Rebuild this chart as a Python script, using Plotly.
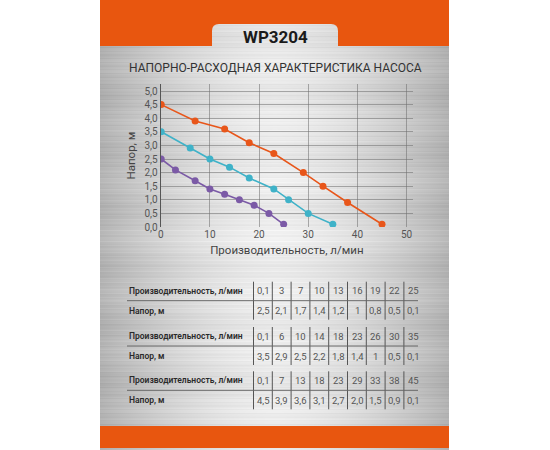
import base64, zlib, struct
import numpy as np
import plotly.graph_objects as go

# ---------------- data ----------------
flow_purple = [0.1, 3, 7, 10, 13, 16, 19, 22, 25]
head_purple = [2.5, 2.1, 1.7, 1.4, 1.2, 1, 0.8, 0.5, 0.1]
flow_cyan = [0.1, 6, 10, 14, 18, 23, 26, 30, 35]
head_cyan = [3.5, 2.9, 2.5, 2.2, 1.8, 1.4, 1, 0.5, 0.1]
flow_orange = [0.1, 7, 13, 18, 23, 29, 33, 38, 45]
head_orange = [4.5, 3.9, 3.6, 3.1, 2.7, 2.0, 1.5, 0.9, 0.1]

title_text = "WP3204"
subtitle_text = "НАПОРНО-РАСХОДНАЯ ХАРАКТЕРИСТИКА НАСОСА"
x_title = "Производительность, л/мин"
y_title = "Напор, м"
row_labels = ["Производительность, л/мин", "Напор, м"]

W, H = 550, 450
ORANGE = "#E8560F"
FONT = "Roboto"

def px(x):
    return x / W

def py(y):
    return 1 - y / H

# ---------------- brushed-metal background image ----------------
iw, ih = 349, 450
xs = np.arange(iw)
ys = np.arange(ih)
dx = np.abs(xs - iw / 2) / (iw / 2)
prof = 238 - 58 * dx ** 1.6
streak = (3.0 * np.sin(ys * 1.7) + 2.5 * np.sin(ys * 0.63 + 1.0) + 2.0 * np.sin(ys * 2.9 + 0.4)
          + 4.0 * np.sin(ys * 0.11 + 0.5))
val = prof[None, :] + streak[:, None] - 6 * (np.abs(ys - 240) / 240.0)[:, None]
val = np.clip(val, 0, 255).astype(np.uint8)
arr = np.stack([val, val, val], axis=2)
raw = np.concatenate([np.zeros((ih, 1), np.uint8), arr.reshape(ih, iw * 3)], axis=1).tobytes()

def chunk(t, d):
    c = struct.pack(">I", len(d)) + t + d
    return c + struct.pack(">I", zlib.crc32(t + d) & 0xffffffff)

png = b"\x89PNG\r\n\x1a\n" + chunk(b"IHDR", struct.pack(">IIBBBBB", iw, ih, 8, 2, 0, 0, 0)) \
    + chunk(b"IDAT", zlib.compress(raw, 9)) + chunk(b"IEND", b"")
bg_src = "data:image/png;base64," + base64.b64encode(png).decode()

# ---------------- figure ----------------
fig = go.Figure()
series = [
    (flow_orange, head_orange, "#E8561A"),
    (flow_cyan, head_cyan, "#3FB2C8"),
    (flow_purple, head_purple, "#7B5AA6"),
]
for fx, fy, col in series:
    fig.add_trace(go.Scatter(x=fx, y=fy, mode="lines+markers",
                             line=dict(color=col, width=1.6),
                             marker=dict(color=col, size=7),
                             showlegend=False, hoverinfo="skip"))

fig.update_layout(
    width=W, height=H,
    margin=dict(l=0, r=0, t=0, b=0, autoexpand=False),
    paper_bgcolor="white",
    plot_bgcolor="rgba(0,0,0,0)",
    separators=", ",
    font=dict(family=FONT, color="#444"),
    xaxis=dict(domain=[px(160.7), px(413)], range=[0, 51.3], tickvals=[0, 10, 20, 30, 40, 50],
               showgrid=True, gridcolor="rgba(110,110,110,0.55)", gridwidth=1,
               zeroline=False, showline=False, ticks="",
               tickfont=dict(size=10, color="#555"),
               title=dict(text=x_title, font=dict(size=11.5, color="#444"), standoff=6)),
    yaxis=dict(domain=[py(227), py(84.2)], range=[0, 5.25],
               tickvals=[0, 0.5, 1, 1.5, 2, 2.5, 3, 3.5, 4, 4.5, 5], tickformat=".1f",
               showgrid=True, gridcolor="rgba(110,110,110,0.55)", gridwidth=1,
               zeroline=False, showline=True, linecolor="#555", linewidth=1, ticks="",
               tickfont=dict(size=10, color="#555"),
               title=dict(text=y_title, font=dict(size=11.5, color="#444"), standoff=6)),
)

fig.add_layout_image(dict(source=bg_src, xref="paper", yref="paper", x=px(100), y=1,
                          sizex=px(449) - px(100), sizey=1, sizing="stretch",
                          xanchor="left", yanchor="top", layer="below"))

shapes = []
r = 7
path = (f"M {px(100)},{py(0)} L {px(449)},{py(0)} L {px(449)},{py(46)} L {px(338)},{py(46)} "
        f"L {px(338)},{py(24 + r)} Q {px(338)},{py(24)} {px(338 - r)},{py(24)} "
        f"L {px(212 + r)},{py(24)} Q {px(212)},{py(24)} {px(212)},{py(24 + r)} "
        f"L {px(212)},{py(46)} L {px(100)},{py(46)} Z")
shapes.append(dict(type="path", path=path, xref="paper", yref="paper",
                   fillcolor=ORANGE, line=dict(width=0), layer="above"))
shapes.append(dict(type="rect", xref="paper", yref="paper", x0=px(100), x1=px(449),
                   y0=py(448), y1=py(426), fillcolor=ORANGE, line=dict(width=0)))

def ann(text, x, y, size, color, xanchor="center", weight=None):
    f = dict(size=size, color=color, family=FONT)
    if weight:
        f["weight"] = weight
    return dict(text=text, x=px(x), y=py(y), xref="paper", yref="paper", showarrow=False,
                xanchor=xanchor, yanchor="middle", font=f)

annotations = [
    ann(f"<b>{title_text}</b>", 275, 37, 17, "#1a1a1a"),
    ann(subtitle_text, 275, 68, 12, "#333"),
]

# ---------------- tables ----------------
def fmt(v, fixed):
    s = f"{v:.1f}" if fixed else (f"{v:g}")
    return s.replace(".", ",")

tables = [
    (flow_purple, head_purple, False),
    (flow_cyan, head_cyan, False),
    (flow_orange, head_orange, True),
]
row1_y = [290.7, 336.0, 380.3]
col0 = 263.0
step = 18.8
for t, (fl, hd, fixed) in enumerate(tables):
    y1 = row1_y[t]
    y2 = y1 + 20
    for j, lab in enumerate(row_labels):
        annotations.append(ann(lab, 127, y1 + 20 * j, 8.5, "#2a2a2a", xanchor="left", weight=600))
    for i, (a, b) in enumerate(zip(fl, hd)):
        cx = col0 + i * step
        annotations.append(ann(fmt(a, False), cx, y1, 9.5, "#555"))
        annotations.append(ann(fmt(b, fixed), cx, y2, 9.5, "#555"))
        sx = cx - 9.5
        shapes.append(dict(type="line", xref="paper", yref="paper", x0=px(sx), x1=px(sx),
                           y0=py(y1 - 9), y1=py(y2 + 9), line=dict(color="#555", width=1)))
    shapes.append(dict(type="line", xref="paper", yref="paper", x0=px(127), x1=px(418),
                       y0=py(y1 + 10), y1=py(y1 + 10), line=dict(color="#666", width=1)))

fig.update_layout(shapes=shapes, annotations=annotations)
fig.write_html("out.html", config={"displayModeBar": False},
               post_script="document.body.style.margin='0';document.body.style.overflow='hidden';")
